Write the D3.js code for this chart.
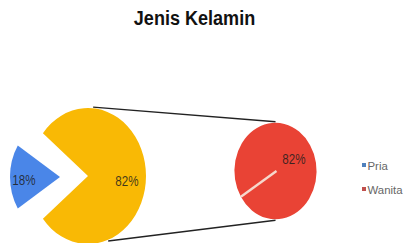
<!DOCTYPE html>
<html><head><meta charset="utf-8">
<script src="https://cdn.jsdelivr.net/npm/d3@7"></script>
<style>html,body{margin:0;padding:0;background:#fff;overflow:hidden}</style>
</head><body><svg id="c" width="404" height="243"></svg>
<script>
// ---- data ----
const title = "Jenis Kelamin";
const categories = ["Pria", "Wanita"];
const primaryValues = [18, 82];     // Pria, Wanita (split into second pie)
const secondaryValues = [82];       // Wanita
const primaryLabels = ["18%", "82%"];
const secondaryLabels = ["82%"];

// ---- styles ----
const sliceColors = ["#4a86e8", "#f9b905"];
const secondColor = "#e94335";
const legendColors = ["#4f81bd", "#c0504d"];
const font = "'Liberation Sans', Arial, sans-serif";

const svg = d3.select("#c");
const sy = 68 / 58;   // vertical stretch of the pies

// title
svg.append("text")
  .attr("transform", "translate(194.5,25) scale(0.86,1)")
  .attr("text-anchor", "middle")
  .style("font", `bold 21px ${font}`)
  .attr("fill", "#111")
  .text(title);

// ---- primary pie ----
const total = d3.sum(primaryValues);
const a0 = -Math.PI / 2 - Math.PI * primaryValues[0] / total;
const pie = d3.pie().sort(null).value(d => d).startAngle(a0).endAngle(a0 + 2 * Math.PI);
const arcs = pie(primaryValues);

const yc = { x: 88, y: 176, r: 58 };   // yellow (other) slice centre
const bc = { x: 60, y: 177, r: 50 };   // exploded blue slice centre
const gap = 0.115;

const arcY = d3.arc().innerRadius(0).outerRadius(yc.r);
const arcB = d3.arc().innerRadius(0).outerRadius(bc.r);

function pt(c, ang, r) {
  const p = d3.pointRadial(ang, r);
  return [c.x + p[0], c.y + p[1] * sy];
}
const rc = { x: 275.5, y: 171, r: 41 };
const conn = [
  [pt(yc, 5 * Math.PI / 180, 59), pt(rc, 0, 42)],
  [pt(yc, 160 * Math.PI / 180, 59), pt(rc, Math.PI, 42)]
];
svg.selectAll("line.conn").data(conn).join("line")
  .attr("class", "conn")
  .attr("x1", d => d[0][0]).attr("y1", d => d[0][1])
  .attr("x2", d => d[1][0]).attr("y2", d => d[1][1])
  .attr("stroke", "#222").attr("stroke-width", 1.3);

svg.append("path")
  .attr("transform", `translate(${yc.x},${yc.y}) scale(1,${sy})`)
  .attr("d", arcY({ startAngle: arcs[1].startAngle + gap, endAngle: arcs[1].endAngle - gap }))
  .attr("fill", sliceColors[1]);

svg.append("path")
  .attr("transform", `translate(${bc.x},${bc.y}) scale(1,${sy})`)
  .attr("d", arcB(arcs[0]))
  .attr("fill", sliceColors[0]);

const labB = d3.arc().innerRadius(bc.r * 0.72).outerRadius(bc.r * 0.72).centroid(arcs[0]);
const labY = d3.arc().innerRadius(yc.r * 0.67).outerRadius(yc.r * 0.67).centroid(arcs[1]);
function label(x, y, t) {
  svg.append("text")
    .attr("transform", `translate(${x},${y}) scale(0.83,1)`)
    .attr("text-anchor", "middle").attr("dy", "0.36em")
    .style("font", `14px ${font}`)
    .attr("fill", "#1e1e1e").attr("fill-opacity", 0.85)
    .text(t);
}
label(bc.x + labB[0], bc.y + labB[1] * sy + 3, primaryLabels[0]);
label(yc.x + labY[0], yc.y + labY[1] * sy + 5, primaryLabels[1]);

// ---- secondary pie ----
const s0 = 237.6 * Math.PI / 180;
const pie2 = d3.pie().sort(null).value(d => d).startAngle(s0).endAngle(s0 + 2 * Math.PI);
const arcs2 = pie2(secondaryValues);
const arcR = d3.arc().innerRadius(0).outerRadius(rc.r);
svg.append("path")
  .attr("transform", `translate(${rc.x},${rc.y}) scale(1,${sy})`)
  .attr("d", arcR(arcs2[0]))
  .attr("fill", secondColor);
const edge = pt(rc, arcs2[0].startAngle, rc.r);
svg.append("line")
  .attr("x1", rc.x + 1).attr("y1", rc.y).attr("x2", edge[0]).attr("y2", edge[1])
  .attr("stroke", "#f6d8cc").attr("stroke-width", 2.4);
const labR = d3.arc().innerRadius(rc.r * 0.53).outerRadius(rc.r * 0.53).centroid(arcs2[0]);
label(rc.x + labR[0], rc.y + labR[1] * sy + 2, secondaryLabels[0]);

// ---- legend ----
const lg = svg.append("g");
const ly = d3.scalePoint().domain(categories).range([165, 189]);
lg.selectAll("rect").data(categories).join("rect")
  .attr("x", 362).attr("y", d => ly(d) - 2).attr("width", 4).attr("height", 4)
  .attr("fill", (d, i) => legendColors[i]);
lg.selectAll("text").data(categories).join("text")
  .attr("x", 367.5).attr("y", d => ly(d) + 4.5)
  .style("font", `11.4px ${font}`).attr("fill", "#666")
  .text(d => d);
</script></body></html>
